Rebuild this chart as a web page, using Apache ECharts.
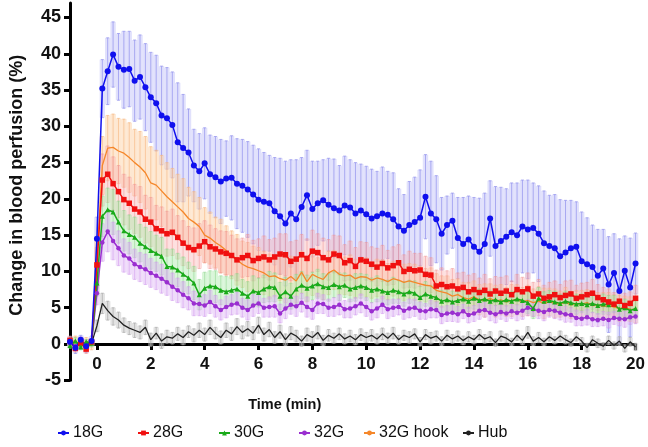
<!DOCTYPE html>
<html>
<head>
<meta charset="utf-8">
<script src="https://cdn.jsdelivr.net/npm/echarts@6/dist/echarts.min.js"></script>
<style>html,body{margin:0;padding:0;background:#fff}#c{width:648px;height:447px}</style>
</head>
<body>
<div id="c"></div>
<script>
// time points (min)
const times = [-1,-0.8,-0.6,-0.4,-0.2,
0,0.2,0.4,0.6,0.8,1,1.2,1.4,1.6,1.8,
2,2.2,2.4,2.6,2.8,3,3.2,3.4,3.6,3.8,
4,4.2,4.4,4.6,4.8,5,5.2,5.4,5.6,5.8,
6,6.2,6.4,6.6,6.8,7,7.2,7.4,7.6,7.8,
8,8.2,8.4,8.6,8.8,9,9.2,9.4,9.6,9.8,
10,10.2,10.4,10.6,10.8,11,11.2,11.4,11.6,11.8,
12,12.2,12.4,12.6,12.8,13,13.2,13.4,13.6,13.8,
14,14.2,14.4,14.6,14.8,15,15.2,15.4,15.6,15.8,
16,16.2,16.4,16.6,16.8,17,17.2,17.4,17.6,17.8,
18,18.2,18.4,18.6,18.8,19,19.2,19.4,19.6,19.8,
20];

const xTicks = [0,2,4,6,8,10,12,14,16,18,20];
const yTicks = [-5,0,5,10,15,20,25,30,35,40,45];
const names = ['18G','28G','30G','32G','32G hook','Hub'];

const g18 = [0.3,-0.5,0.6,-0.3,0.4,
14.5,35.2,37.6,39.9,38.2,37.8,37.9,36.3,36.8,35.4,
34.0,33.2,31.5,31.1,30.2,27.8,27.0,26.4,24.6,23.8,
24.9,23.4,23.0,22.4,22.8,22.9,22.1,21.8,21.3,20.6,
19.9,19.6,19.4,18.3,17.6,16.6,18.0,17.2,18.9,20.5,
18.6,19.4,19.8,19.2,18.7,18.4,19.1,18.8,18.0,18.4,
17.9,17.3,17.6,18.0,17.8,17.2,16.2,15.6,16.4,16.8,
17.4,20.3,18.0,17.2,15.2,16.4,17.0,14.6,13.8,14.4,
13.4,12.7,13.8,17.3,13.5,14.2,14.8,15.4,15.0,16.2,
15.8,16.0,15.2,13.9,13.5,13.2,12.1,12.6,13.2,13.4,
11.4,11.0,10.6,9.4,10.4,8.2,9.8,7.3,10.1,7.8,
11.1];
const g18Err = [0.7,0.8,0.6,0.9,0.7,
3.0,4.0,4.6,4.5,4.6,5.3,5.2,5.6,5.8,6.0,
6.2,6.6,6.8,7.0,7.3,8.2,7.4,6.0,5.0,5.2,
4.9,5.4,5.6,5.8,5.2,5.8,6.2,6.4,6.6,6.8,
7.0,6.8,6.6,7.4,8.0,8.6,7.4,8.2,6.8,6.2,
6.6,5.8,5.6,6.4,6.8,6.2,6.8,6.6,7.0,6.4,
6.6,6.8,6.2,6.4,6.0,6.4,5.2,5.0,6.0,6.2,
6.6,5.8,7.2,6.0,5.0,4.0,3.8,5.6,6.4,6.0,
6.8,7.4,7.0,5.2,8.2,7.4,6.6,6.8,7.2,6.4,
6.8,6.2,6.6,7.2,7.0,7.4,7.8,7.2,6.6,6.2,
6.8,6.4,5.8,6.4,5.4,6.6,5.4,7.2,4.8,6.8,
4.2];

const g28 = [0.5,-0.6,0.2,-0.7,0.3,
10.9,22.6,23.4,22.1,21.0,19.9,19.4,18.6,18.2,17.2,
16.8,15.9,15.6,15.2,15.4,14.7,13.9,13.3,13.0,13.5,
14.1,13.4,13.1,12.7,12.5,12.2,11.6,11.9,12.2,11.5,
11.8,12.0,11.6,12.0,12.4,12.3,11.4,11.7,12.3,11.8,
12.8,12.6,11.9,11.6,12.4,12.2,11.2,11.5,10.7,11.6,
11.4,11.0,10.6,11.1,10.5,10.8,11.2,10.0,10.3,10.1,
10.2,9.6,9.5,8.0,8.2,7.9,8.0,7.6,7.8,7.2,
7.5,7.1,7.4,6.9,7.3,7.0,7.3,6.8,7.5,7.2,
7.6,6.6,6.9,6.3,6.5,6.8,6.4,6.7,6.9,6.3,
6.5,6.8,7.0,6.4,6.1,5.8,5.5,5.9,5.3,5.6,
6.3];
const g28Err = [0.6,0.5,0.7,0.6,0.5,
2.4,3.6,3.9,3.7,3.6,3.5,3.6,3.4,3.5,3.3,
3.4,3.2,3.3,3.1,3.2,3.0,3.1,2.9,3.0,3.1,
2.9,3.0,2.8,2.9,3.0,2.8,2.9,2.7,2.9,2.8,
2.7,2.9,2.8,2.6,2.8,2.9,2.7,2.6,2.8,2.7,
2.9,2.6,2.7,2.8,2.6,2.7,2.5,2.7,2.6,2.5,
2.6,2.4,2.6,2.5,2.4,2.6,2.5,2.3,2.5,2.4,
2.3,2.5,2.4,2.2,2.3,2.2,2.4,2.2,2.1,2.3,
2.2,2.0,2.2,2.1,2.0,2.2,2.1,1.9,2.1,2.0,
2.2,1.9,2.0,1.8,2.0,1.9,1.8,2.0,1.9,1.8,
1.9,1.7,1.9,1.8,1.7,1.8,1.6,1.8,1.7,1.6,
1.8];

const g30 = [-0.2,0.4,-0.4,0.3,0.1,
8.4,17.6,18.5,18.2,16.8,15.6,15.1,14.7,13.9,13.4,
12.9,12.5,12.1,10.7,10.6,10.2,9.6,9.1,8.4,6.8,
7.7,8.0,7.9,7.4,7.2,7.4,7.6,7.0,6.6,7.3,
7.1,7.6,7.9,7.8,6.6,7.2,6.6,7.6,8.1,7.7,
8.0,8.3,7.9,7.8,8.2,7.9,8.1,7.6,7.8,8.0,
7.8,7.4,7.6,7.3,7.1,7.4,7.2,6.9,7.2,7.0,
6.4,6.9,6.6,6.4,5.9,6.1,5.8,6.0,6.2,5.9,
6.3,6.0,6.2,5.9,6.1,5.8,6.1,5.9,6.2,6.0,
5.7,4.9,6.3,5.9,6.0,5.8,5.6,5.9,5.7,5.5,
5.6,5.4,5.6,5.3,5.5,5.4,5.5,4.8,5.0,4.6,
4.9];
const g30Err = [0.4,0.5,0.4,0.3,0.5,
1.8,2.8,3.0,3.1,2.9,2.8,2.7,2.8,2.6,2.7,
2.6,2.5,2.6,2.4,2.5,2.3,2.4,2.2,2.3,2.1,
2.2,2.1,2.2,2.0,2.1,2.0,2.1,1.9,2.0,2.1,
2.0,1.9,2.1,2.0,1.9,2.0,1.8,2.0,1.9,1.8,
1.9,2.0,1.8,1.9,1.8,1.9,1.7,1.8,1.9,1.7,
1.8,1.7,1.8,1.6,1.7,1.8,1.6,1.7,1.6,1.7,
1.6,1.7,1.5,1.6,1.5,1.6,1.5,1.6,1.5,1.4,
1.5,1.6,1.4,1.5,1.6,1.4,1.5,1.4,1.5,1.4,
1.5,1.4,1.5,1.3,1.4,1.5,1.3,1.4,1.3,1.4,
1.3,1.4,1.3,1.2,1.4,1.3,1.2,1.3,1.2,1.3,
1.2];

const g32 = [0.1,-0.3,0.5,-0.1,0.2,
7.0,14.0,15.5,14.2,13.2,12.2,11.8,11.0,10.6,10.3,
9.8,9.4,9.0,8.5,7.9,7.4,6.8,6.3,5.6,5.5,
5.3,5.8,5.2,4.7,5.1,5.4,5.6,5.0,4.7,5.3,
5.6,5.0,5.1,5.2,4.2,4.9,5.4,5.2,5.7,5.1,
4.7,5.6,5.5,5.0,5.1,5.4,4.8,4.9,5.2,5.6,
5.1,4.5,4.9,5.4,4.8,5.0,5.1,4.6,4.9,5.0,
4.6,4.5,4.8,4.7,4.0,4.2,4.3,4.1,4.5,4.0,
4.2,4.6,4.7,4.3,4.1,4.4,4.2,4.5,4.3,4.6,
5.0,4.8,4.6,4.4,4.7,4.6,4.3,4.1,4.0,3.6,
3.5,3.7,3.4,3.3,3.5,3.3,3.6,3.5,3.4,3.7,
3.8];
const g32Err = [0.4,0.3,0.5,0.4,0.3,
1.6,2.6,2.8,2.6,2.4,2.3,2.2,2.1,2.0,2.1,
2.0,1.9,2.0,1.8,1.9,1.7,1.8,1.6,1.7,1.6,
1.5,1.6,1.5,1.4,1.5,1.4,1.5,1.3,1.4,1.5,
1.4,1.3,1.4,1.5,1.3,1.4,1.3,1.4,1.3,1.4,
1.3,1.4,1.3,1.2,1.3,1.4,1.2,1.3,1.2,1.3,
1.3,1.2,1.3,1.2,1.3,1.2,1.1,1.2,1.3,1.2,
1.2,1.1,1.2,1.1,1.2,1.1,1.2,1.1,1.0,1.1,
1.1,1.2,1.0,1.1,1.2,1.0,1.1,1.0,1.1,1.2,
1.1,1.0,1.1,1.2,1.0,1.1,1.0,1.1,1.0,1.1,
1.0,1.1,1.0,0.9,1.0,1.1,0.9,1.0,1.1,1.0,
1.0];

const g32hook = [0.2,0.5,-0.3,0.4,-0.2,
12.0,24.6,27.0,27.1,26.6,26.3,25.7,25.0,24.4,23.6,
22.2,21.9,21.1,20.3,19.6,18.9,18.2,17.3,16.8,16.2,
15.0,14.6,14.0,13.5,12.9,12.3,11.6,11.0,10.6,10.4,
10.1,9.8,9.3,9.4,9.0,8.8,9.3,8.7,9.9,8.6,
9.6,9.2,8.9,9.8,10.2,9.6,9.4,9.5,9.0,9.3,
9.2,8.8,9.1,8.9,8.6,9.0,8.8,8.5,8.7,8.5,
8.3,8.1,8.0,7.4,7.2,7.0,6.6,6.8,6.4,6.2,
6.5,6.1,6.0,6.3,5.9,6.1,5.8,6.0,6.1,5.8,
6.0,5.7,5.9,5.6,5.8,5.6,5.5,5.8,5.4,5.6,
5.5,5.7,5.3,5.4,5.2,5.3,5.1,4.9,5.0,4.8,
4.7];
const g32hookErr = [0.5,0.6,0.4,0.5,0.6,
2.5,4.0,4.5,4.6,4.5,4.7,4.8,4.6,4.9,5.0,
5.0,4.8,4.9,4.7,4.6,4.5,4.6,4.3,4.2,4.0,
3.8,3.6,3.5,3.7,3.4,3.3,3.5,3.2,3.4,3.1,
3.2,3.0,3.1,2.9,3.0,3.1,2.8,3.0,2.9,2.8,
2.9,2.7,2.8,3.0,2.7,2.8,2.6,2.8,2.7,2.6,
2.7,2.5,2.6,2.7,2.5,2.4,2.6,2.5,2.4,2.5,
2.4,2.3,2.5,2.3,2.2,2.4,2.3,2.2,2.1,2.3,
2.2,2.1,2.3,2.0,2.2,2.1,2.0,2.2,2.1,2.0,
2.1,1.9,2.0,2.1,1.9,2.0,1.8,2.0,1.9,1.8,
1.9,1.8,2.0,1.7,1.9,1.8,1.7,1.8,1.6,1.7,
1.8];

const hub = [0.2,-0.4,0.3,-0.2,0.1,
2.5,5.6,4.6,3.8,3.3,2.6,2.2,1.9,1.6,2.3,
0.6,1.5,0.4,1.0,0.8,1.4,0.9,1.7,1.2,1.9,
1.3,2.3,1.5,0.9,1.9,1.4,2.4,1.6,2.1,1.5,
2.6,1.3,2.0,0.9,1.7,0.6,1.5,1.1,0.4,1.3,
0.9,1.6,0.5,1.2,0.8,1.4,0.7,1.1,0.6,1.3,
0.9,1.2,0.7,1.4,0.8,1.5,0.6,1.2,0.9,1.4,
0.3,1.3,0.8,1.1,0.4,1.2,0.7,1.1,0.5,1.0,
0.6,1.3,0.7,1.0,0.2,1.1,0.8,0.3,1.2,0.5,
1.6,0.4,0.9,0.3,1.0,0.5,1.1,0.6,0.2,1.0,
0.4,-0.5,0.6,0.1,-0.3,0.5,-0.2,0.4,-0.6,0.3,
-0.4];
const hubErr = [0.3,0.4,0.3,0.4,0.3,
0.8,1.4,1.3,1.2,1.1,1.0,0.9,1.0,0.9,1.0,
0.9,0.8,1.0,0.9,0.8,0.9,1.0,0.8,0.9,1.0,
0.9,1.0,0.8,0.9,1.0,0.9,1.1,0.9,1.0,0.9,
1.1,0.9,1.0,0.8,0.9,0.8,0.9,0.8,0.7,0.9,
0.8,0.9,0.7,0.8,0.7,0.8,0.7,0.8,0.7,0.8,
0.7,0.8,0.7,0.8,0.7,0.8,0.6,0.7,0.8,0.7,
0.6,0.7,0.8,0.7,0.6,0.7,0.6,0.7,0.6,0.7,
0.6,0.7,0.6,0.7,0.5,0.7,0.6,0.5,0.7,0.6,
0.8,0.6,0.7,0.5,0.6,0.5,0.7,0.6,0.5,0.6,
0.5,0.6,0.5,0.6,0.5,0.6,0.5,0.6,0.5,0.6,
0.5];

const FONT = '"Liberation Sans", Arial, sans-serif';

const groups = [
  {name:'18G', mean:g18, err:g18Err, color:'#1010ee', fill:'rgba(175,175,246,0.38)', whisk:'rgba(150,150,238,0.75)', symbol:'circle', size:6},
  {name:'32G hook', mean:g32hook, err:g32hookErr, color:'#f5872a', fill:'rgba(253,210,165,0.5)', whisk:'rgba(245,180,125,0.6)', symbol:'none', size:0},
  {name:'28G', mean:g28, err:g28Err, color:'#f01010', fill:'rgba(250,170,170,0.38)', whisk:'rgba(240,145,145,0.5)', symbol:'rect', size:5.5},
  {name:'30G', mean:g30, err:g30Err, color:'#1aaa1a', fill:'rgba(170,234,170,0.45)', whisk:'rgba(135,212,135,0.5)', symbol:'triangle', size:5},
  {name:'32G', mean:g32, err:g32Err, color:'#9a2fd0', fill:'rgba(220,175,243,0.45)', whisk:'rgba(208,150,238,0.5)', symbol:'circle', size:4.5},
  {name:'Hub', mean:hub, err:hubErr, color:'#222222', fill:'rgba(200,200,200,0.5)', whisk:'rgba(170,170,170,0.7)', symbol:'none', size:0}
];

function bandSeries(gp){
  return {
    type:'custom', name: gp.name + ' err', z:1, silent:true,
    data: times.map((t,i)=>[t, gp.mean[i], gp.err[i]]),
    encode:{x:0, y:1},
    renderItem: function(params, api){
      const t = api.value(0), m = api.value(1), e = api.value(2);
      const top = api.coord([t, m + e]);
      const bot = api.coord([t, m - e]);
      const w = api.size([0.2, 0])[0];
      return {type:'group', children:[
        {type:'rect', shape:{x: top[0] - w/2, y: top[1], width: w, height: bot[1] - top[1]}, style:{fill: gp.fill}},
        {type:'line', shape:{x1: top[0], y1: top[1], x2: top[0], y2: bot[1]}, style:{stroke: gp.whisk, lineWidth: 1}},
        {type:'line', shape:{x1: top[0]-1.5, y1: top[1], x2: top[0]+1.5, y2: top[1]}, style:{stroke: gp.whisk, lineWidth: 1}},
        {type:'line', shape:{x1: top[0]-1.5, y1: bot[1], x2: top[0]+1.5, y2: bot[1]}, style:{stroke: gp.whisk, lineWidth: 1}}
      ]};
    }
  };
}

const lineOrder = ['Hub','32G hook','32G','30G','28G','18G'];
function lineSeries(gp){
  return {
    type:'line', name: gp.name, z: 3,
    data: times.map((t,i)=>[t, gp.mean[i]]),
    symbol: gp.symbol, symbolSize: gp.size, showSymbol: gp.symbol !== 'none',
    lineStyle:{color: gp.color, width: gp.symbol === 'none' ? 1.3 : 1.5},
    itemStyle:{color: gp.color},
    emphasis:{disabled:true}
  };
}

const legendPos = {'18G':52,'28G':132,'30G':213,'32G':293,'32G hook':358,'Hub':457};

const series = groups.map(bandSeries).concat(
  lineOrder.map(n => lineSeries(groups.find(g => g.name === n)))
);

const option = {
  animation:false,
  backgroundColor:'#ffffff',
  grid:{left:70, right:12, top:3, bottom:66.7},
  legend: names.map(n => ({
    data:[n], left: legendPos[n], top: 420,
    itemWidth: 11, itemHeight: 6, itemGap: 0,
    textStyle:{fontSize:16, fontFamily:FONT, color:'#111', padding:[0,0,0,-1]}
  })),
  xAxis:{
    type:'value', min:-1, max:20, offset:-36.3,
    name:'Time (min)', nameLocation:'middle', nameGap:53,
    nameTextStyle:{fontSize:14.5, fontWeight:'bold', fontFamily:FONT, color:'#111', padding:[0,136,0,0]},
    axisLine:{onZero:false, lineStyle:{color:'#000', width:3}},
    axisTick:{show:true, length:6, inside:false, customValues: xTicks, lineStyle:{color:'#000', width:3}},
    axisLabel:{customValues: xTicks, fontSize:17, fontWeight:'bold', fontFamily:FONT, color:'#111', margin:12},
    splitLine:{show:false}
  },
  yAxis:{
    type:'value', min:-5, max:47,
    name:'Change in blood perfusion (%)', nameLocation:'middle', nameGap:44,
    nameTextStyle:{fontSize:18, fontWeight:'bold', fontFamily:FONT, color:'#111', padding:[0,0,0,13]},
    axisLine:{onZero:false, lineStyle:{color:'#000', width:3}},
    axisTick:{show:true, length:6, inside:false, customValues: yTicks, lineStyle:{color:'#000', width:3}},
    axisLabel:{customValues: yTicks, fontSize:18, fontWeight:'bold', fontFamily:FONT, color:'#111', margin:9},
    splitLine:{show:false}
  },
  series: series
};

const chart = echarts.init(document.getElementById('c'), null, {renderer:'canvas'});
chart.setOption(option);
</script>
</body>
</html>
